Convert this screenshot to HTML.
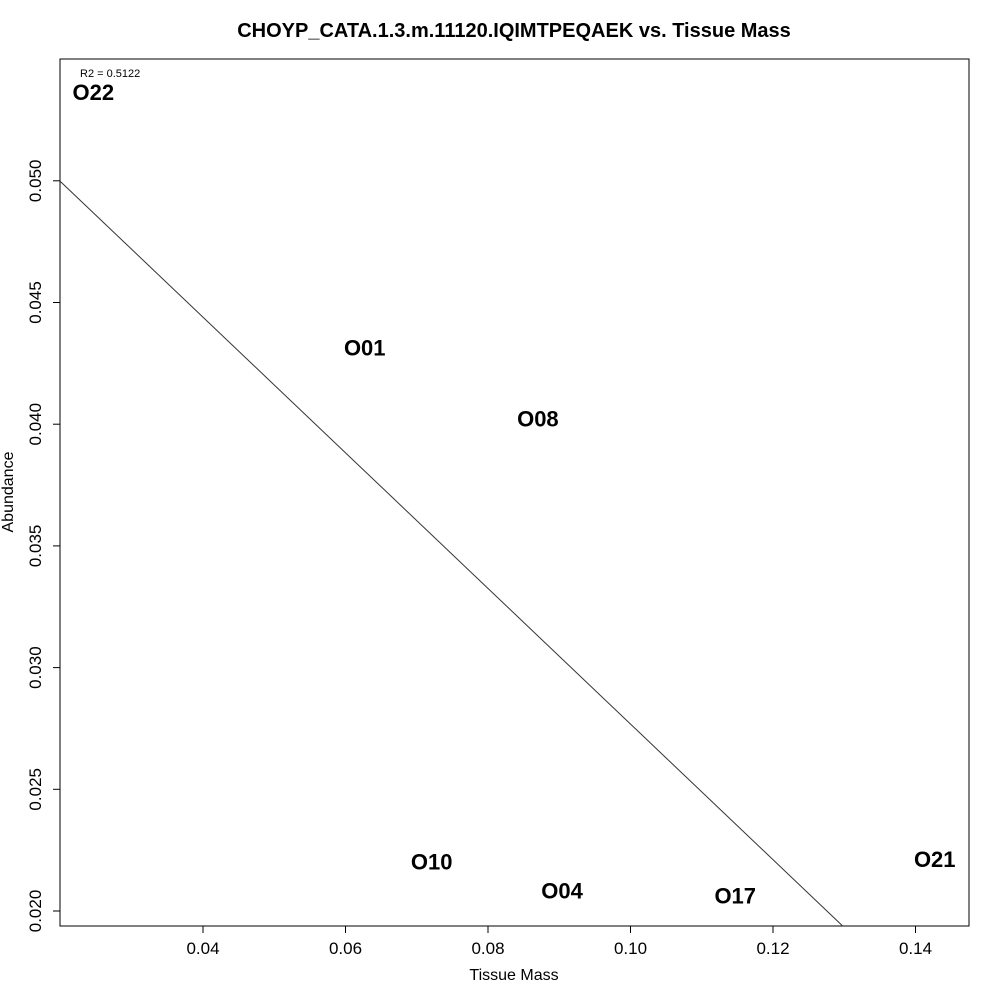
<!DOCTYPE html>
<html><head><meta charset="utf-8"><style>
body{margin:0;background:#fff;}
svg{display:block;font-family:"Liberation Sans",Arial,sans-serif;}
</style></head><body>
<svg id="chart" width="1000" height="1000" viewBox="0 0 1000 1000">
<rect width="1000" height="1000" fill="#fff"/>
<text x="514" y="37" text-anchor="middle" font-size="20" font-weight="bold">CHOYP_CATA.1.3.m.11120.IQIMTPEQAEK vs. Tissue Mass</text>
<rect x="60" y="59" width="909" height="867" fill="none" stroke="#000" stroke-width="1"/>
<g id="xaxis"></g>
<g id="yaxis"></g>
<g id="marks"></g>
<text x="514" y="980" text-anchor="middle" font-size="16">Tissue Mass</text>
<text transform="translate(13,492) rotate(-90)" text-anchor="middle" font-size="16">Abundance</text>
<text x="80" y="77" font-size="11">R2 = 0.5122</text>
</svg>
<script>
const labels = ["O22","O01","O08","O10","O04","O17","O21"];
const tissueMass = [0.0246,0.0627,0.0870,0.0721,0.0904,0.1147,0.1427];
const abundance = [0.0536,0.0431,0.0402,0.0220,0.0208,0.0206,0.0221];
const xTicks = [0.04,0.06,0.08,0.10,0.12,0.14];
const xTickLabels = ["0.04","0.06","0.08","0.10","0.12","0.14"];
const yTicks = [0.020,0.025,0.030,0.035,0.040,0.045,0.050];
const yTickLabels = ["0.020","0.025","0.030","0.035","0.040","0.045","0.050"];
const fitSlope = -0.2786;
const fitIntercept = 0.05554;

const NS="http://www.w3.org/2000/svg";
const X0=60,X1=969,Y0=59,Y1=926;
function sx(v){return 203+(v-0.04)*7125;}
function sy(v){return 911-(v-0.020)*24340;}
function mk(tag,attrs,parent){const e=document.createElementNS(NS,tag);for(const k in attrs)e.setAttribute(k,attrs[k]);parent.appendChild(e);return e;}

const xg=document.getElementById('xaxis');
mk('line',{x1:sx(xTicks[0]),x2:sx(xTicks[xTicks.length-1]),y1:Y1,y2:Y1,stroke:'#000'},xg);
xTicks.forEach((t,i)=>{
  const l=mk('line',{x1:sx(t),x2:sx(t),y1:Y1,y2:Y1+7,stroke:'#000'},xg);
  
  
  const tx=mk('text',{x:sx(t),y:Y1+28,'text-anchor':'middle','font-size':17},xg);
  tx.textContent=xTickLabels[i];
  
  
});
const yg=document.getElementById('yaxis');
mk('line',{x1:X0,x2:X0,y1:sy(yTicks[0]),y2:sy(yTicks[yTicks.length-1]),stroke:'#000'},yg);
yTicks.forEach((t,i)=>{
  const l=mk('line',{x1:X0-7,x2:X0,y1:sy(t),y2:sy(t),stroke:'#000'},yg);
  
  
  const tx=mk('text',{transform:`translate(${X0-19},${sy(t)}) rotate(-90)`,'text-anchor':'middle','font-size':17},yg);
  tx.textContent=yTickLabels[i];
  
  
});
const mg=document.getElementById('marks');
let xa=(X0-203)/7125+0.04, xb=(X1-203)/7125+0.04;
let pts=[];
[xa,xb].forEach(x=>{pts.push([x,fitIntercept+fitSlope*x]);});
const yMin=(911-Y1)/24340+0.020, yMax=(911-Y0)/24340+0.020;
pts=pts.map(([x,y])=>{
  if(y<yMin){x=(yMin-fitIntercept)/fitSlope;y=yMin;}
  if(y>yMax){x=(yMax-fitIntercept)/fitSlope;y=yMax;}
  return [x,y];});
const fl=mk('line',{x1:sx(pts[0][0]),y1:sy(pts[0][1]),x2:sx(pts[1][0]),y2:sy(pts[1][1]),stroke:'#333','stroke-width':1},mg);


labels.forEach((lab,i)=>{
  const t=mk('text',{x:sx(tissueMass[i]),y:sy(abundance[i])+7,'text-anchor':'middle','font-size':22,'font-weight':'bold'},mg);
  t.textContent=lab;
  
  
});
</script>
</body></html>
